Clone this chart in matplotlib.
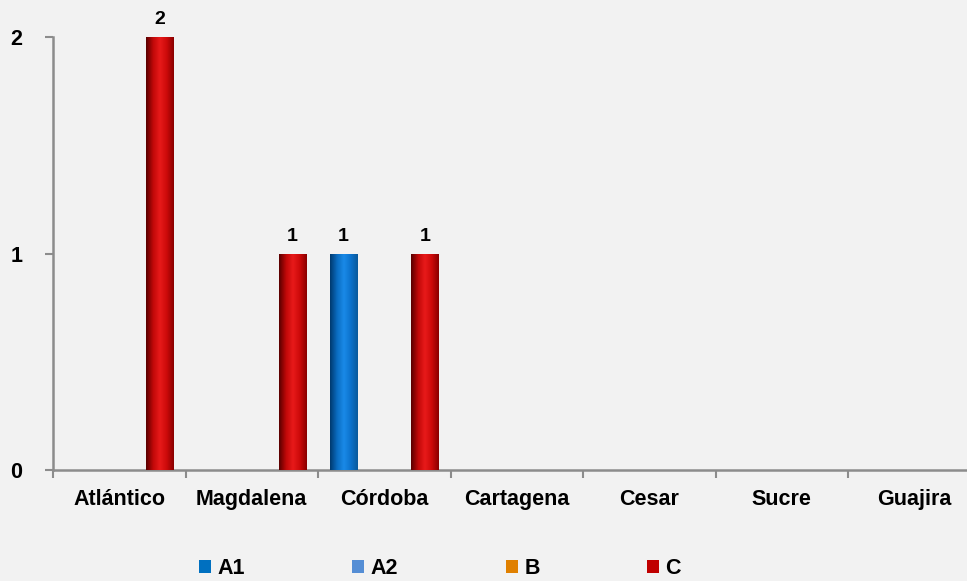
import matplotlib
matplotlib.use("Agg")
import matplotlib.pyplot as plt
import numpy as np
from matplotlib import font_manager
from matplotlib.colors import LinearSegmentedColormap
from matplotlib.patches import Patch

categories = ["Atlántico", "Magdalena", "Córdoba", "Cartagena", "Cesar", "Sucre", "Guajira"]
series_names = ["A1", "A2", "B", "C"]
A1 = [0, 0, 1, 0, 0, 0, 0]
A2 = [0, 0, 0, 0, 0, 0, 0]
B = [0, 0, 0, 0, 0, 0, 0]
C = [2, 1, 1, 0, 0, 0, 0]
yticks = [0, 1, 2]

colors = ["#0070C0", "#558ED5", "#E08000", "#C00000"]
shades = {
    "#0070C0": ["#003a70", "#0a6cc0", "#1a8ae8", "#0c72cc", "#0a5a9c"],
    "#558ED5": ["#2d5a90", "#5a92d8", "#7aaaea", "#5a92d8", "#3c6aa0"],
    "#E08000": ["#804800", "#d87a00", "#f09a20", "#d87a00", "#a05800"],
    "#C00000": ["#5a0000", "#c00808", "#e81a1a", "#cc0a0a", "#8a0000"],
}

avail = {f.name for f in font_manager.fontManager.ttflist}
fam = "Liberation Sans Narrow" if "Liberation Sans Narrow" in avail else "Liberation Sans"
plt.rcParams["font.family"] = [fam, "DejaVu Sans"]

W, H = 967, 581
fig = plt.figure(figsize=(W / 100, H / 100), dpi=100, facecolor="#F2F2F2")
ax = fig.add_axes([53 / W, 1 - 470 / H, 927.5 / W, (470 - 37) / H])
ax.set_facecolor("#F2F2F2")

n = len(categories)
x = np.arange(n)
bw = 0.205
data = [A1, A2, B, C]
for i, (vals, col) in enumerate(zip(data, colors)):
    offs = (i - 1.5) * bw
    bars = ax.bar(x + offs, vals, bw, color=col, zorder=2, label=series_names[i])
    cmap = LinearSegmentedColormap.from_list("g" + str(i), shades[col])
    grad = np.linspace(0, 1, 64).reshape(1, -1)
    for b, v in zip(bars, vals):
        if v <= 0:
            continue
        x0, w = b.get_x(), b.get_width()
        im = ax.imshow(grad, cmap=cmap, aspect="auto",
                       extent=[x0, x0 + w, 0, b.get_height()], zorder=3)
        im.set_clip_path(b)
        ax.text(x0 + w / 2, v + 0.04, f"{v:g}", ha="center", va="bottom",
                fontsize=14, fontweight="bold", zorder=4)

ax.set_xlim(-0.5, n - 0.5)
ax.set_ylim(0, 2)
ax.set_yticks(yticks)
ax.set_yticklabels([str(t) for t in yticks], fontsize=15.5, fontweight="bold")
ax.set_xticks(x)
ax.set_xticklabels(categories, fontsize=15.5, fontweight="bold")
ax.set_xticks(np.arange(n + 1) - 0.5, minor=True)
ax.tick_params(axis="x", which="major", length=0, pad=14)
ax.tick_params(axis="x", which="minor", length=6, color="#8c8c8c", width=1.5)
ax.tick_params(axis="y", length=6, color="#8c8c8c", width=1.5, pad=16)
for s in ["top", "right"]:
    ax.spines[s].set_visible(False)
for s in ["left", "bottom"]:
    ax.spines[s].set_color("#8c8c8c")
    ax.spines[s].set_linewidth(1.8)
ax.spines["left"].set_zorder(5)

handles = [Patch(facecolor=c, label=nm) for c, nm in zip(colors, series_names)]
leg = fig.legend(handles=handles, loc="center left", bbox_to_anchor=(199 / W, 1 - 569 / H),
                 ncol=4, frameon=False, handlelength=0.55, handleheight=0.55,
                 handletextpad=0.3, columnspacing=5.0, borderpad=0, borderaxespad=0,
                 prop={"family": [fam, "DejaVu Sans"], "weight": "bold", "size": 15.5})

fig.savefig("out.png", dpi=100, facecolor=fig.get_facecolor())
